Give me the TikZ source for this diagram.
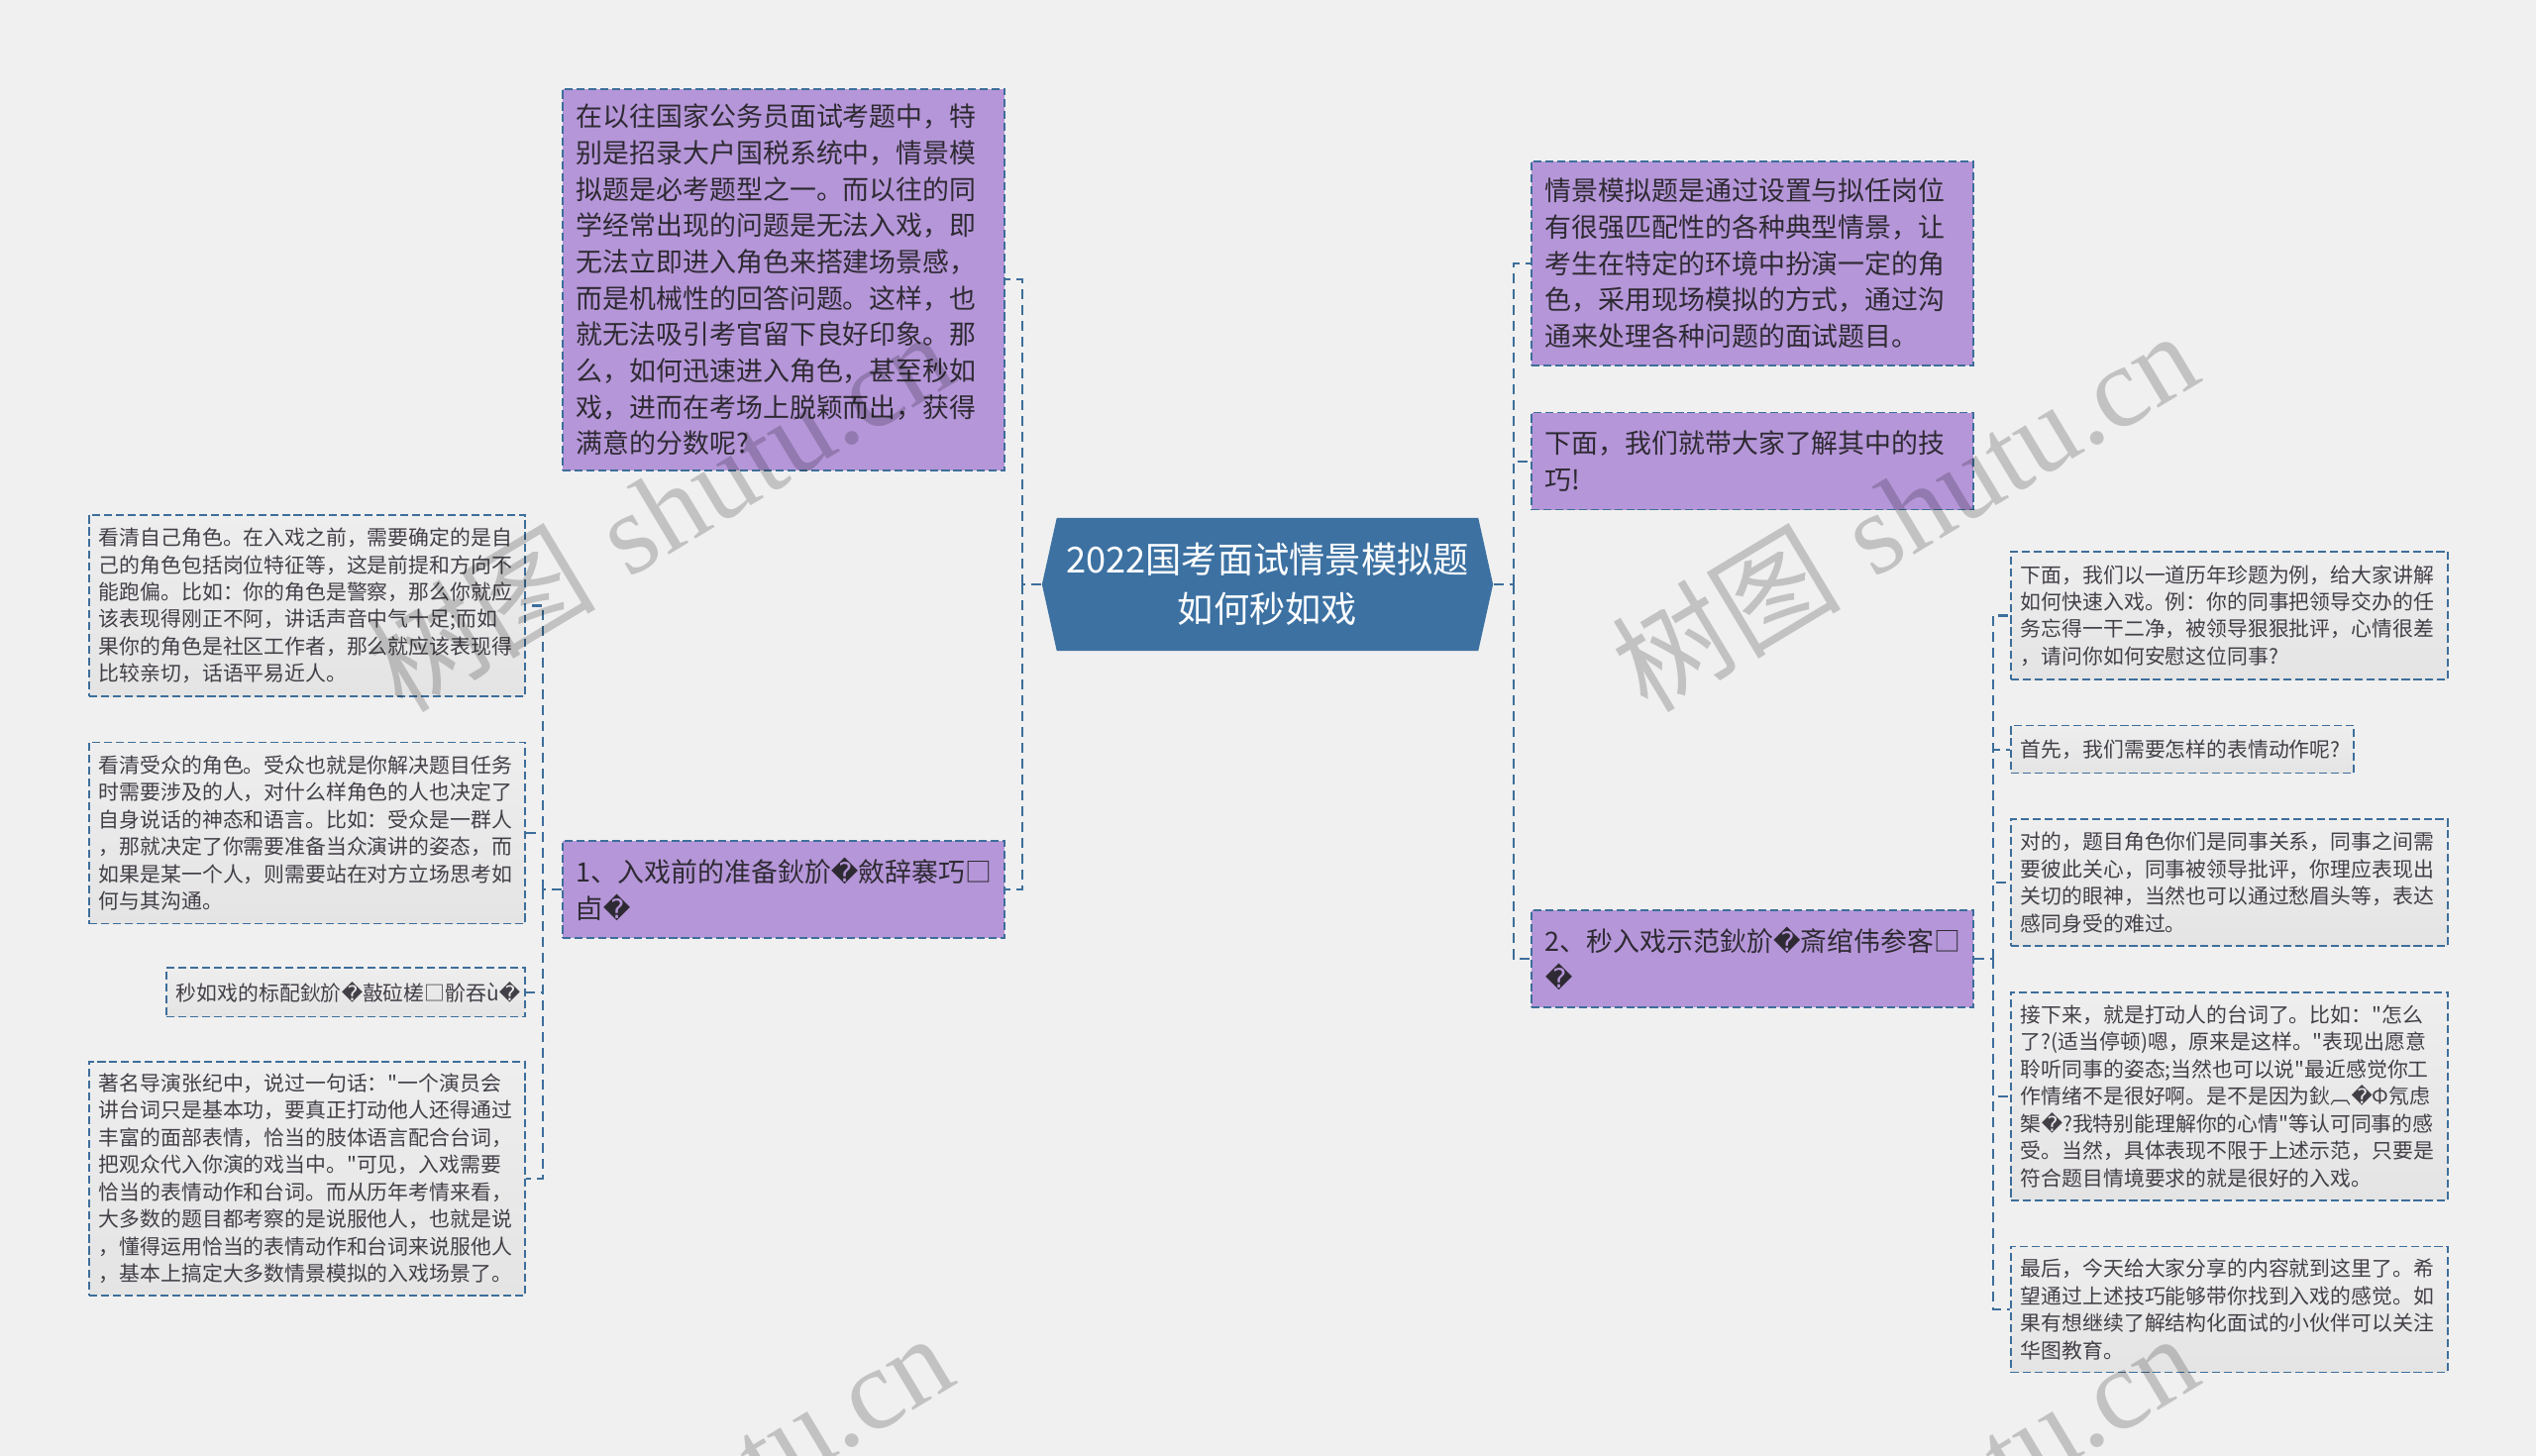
\documentclass[tikz,border=0pt]{standalone}
\usepackage{fontspec}
\setmainfont{Noto Sans CJK SC}[Ligatures=TeXOff]
\newfontfamily\dejavu{DejaVu Sans}
\newfontfamily\wmserif{Liberation Serif}
\usetikzlibrary{positioning,shapes.symbols}

\definecolor{bgcol}{HTML}{F0F0F0}
\definecolor{linecol}{HTML}{3D6E9B}
\definecolor{rootcol}{HTML}{3C71A2}
\definecolor{purpcol}{HTML}{B596D8}
\definecolor{leaftop}{HTML}{EEEEEE}
\definecolor{leafbot}{HTML}{E4E4E4}
\definecolor{txtcol}{HTML}{2E2A33}

\newcommand\badch{{\dejavu\symbol{"FFFD}}}

\tikzset{
  root/.style={signal, signal to=west and east, signal pointer angle=155,
    fill=rootcol, text=white, minimum width=4.55cm, minimum height=1.34cm,
    inner sep=0pt, align=center, font=\fontsize{10.3pt}{14.2pt}\selectfont},
  topic/.style={rectangle, fill=purpcol, draw=linecol, line width=0.43pt,
    dash pattern=on 2.3pt off 1.1pt, text=txtcol, align=left,
    inner xsep=0.14cm, inner ysep=0pt, text width=4.18cm,
    font=\fontsize{7.65pt}{10.43pt}\selectfont},
  leaf/.style={rectangle, top color=leaftop, bottom color=leafbot, draw=linecol,
    line width=0.43pt, dash pattern=on 2.3pt off 1.1pt, text=txtcol!90,
    align=left, inner xsep=0.1cm, inner ysep=0pt, text width=4.2cm,
    font=\fontsize{5.93pt}{7.8pt}\selectfont},
  link/.style={draw=linecol, line width=0.57pt, dash pattern=on 2.85pt off 1.7pt},
  wmark/.style={rotate=31, text=black, opacity=0.19,
    font=\fontsize{33pt}{33pt}\selectfont},
}

\begin{document}
\begin{tikzpicture}[x=0.01cm, y=-0.01cm]
  \useasboundingbox (0,0) rectangle (2560,1470);
  \fill[bgcol] (0,0) rectangle (2560,1470);

  \node[root] (c) at (1279.5,590) {2022国考面试情景模拟题\\如何秒如戏};

  \node[topic, minimum height=3.85cm] (l1) at (791,282.5)
    {在以往国家公务员面试考题中，特\\别是招录大户国税系统中，情景模\\拟题是必考题型之一。而以往的同\\学经常出现的问题是无法入戏，即\\无法立即进入角色来搭建场景感，\\而是机械性的回答问题。这样，也\\就无法吸引考官留下良好印象。那\\么，如何迅速进入角色，甚至秒如\\戏，进而在考场上脱颖而出，获得\\满意的分数呢?};
  \node[topic, minimum height=0.98cm] (l2) at (791,898)
    {1、入戏前的准备鈥斺\badch 斂辞褰巧□\\卣\badch};

  \node[topic, minimum height=2.06cm] (r1) at (1769,266)
    {情景模拟题是通过设置与拟任岗位\\有很强匹配性的各种典型情景，让\\考生在特定的环境中扮演一定的角\\色，采用现场模拟的方式，通过沟\\通来处理各种问题的面试题目。};
  \node[topic, minimum height=0.98cm, below=0.46cm of r1] (r2)
    {下面，我们就带大家了解其中的技\\巧!};
  \node[topic, minimum height=0.98cm] (r3) at (1769,968)
    {2、秒入戏示范鈥斺\badch 斎绾伟参客□\\\badch};

  \node[leaf, minimum height=1.83cm] (la1) at (310,611.5)
    {看清自己角色。在入戏之前，需要确定的是自\\己的角色包括岗位特征等，这是前提和方向不\\能跑偏。比如：你的角色是警察，那么你就应\\该表现得刚正不阿，讲话声音中气十足;而如\\果你的角色是社区工作者，那么就应该表现得\\比较亲切，话语平易近人。};
  \node[leaf, minimum height=1.83cm, below=0.45cm of la1] (la2)
    {看清受众的角色。受众也就是你解决题目任务\\时需要涉及的人，对什么样角色的人也决定了\\自身说话的神态和语言。比如：受众是一群人\\，那就决定了你需要准备当众演讲的姿态，而\\如果是某一个人，则需要站在对方立场思考如\\何与其沟通。};
  \node[leaf, minimum height=0.49cm, text width=3.42cm,
    below=0.43cm of la2.south east, anchor=north east] (la3)
    {秒如戏的标配鈥斺\badch 敼砬槎□骱吞ù\badch};
  \node[leaf, minimum height=2.36cm,
    below=0.44cm of la3.south east, anchor=north east] (la4)
    {著名导演张纪中，说过一句话："一个演员会\\讲台词只是基本功，要真正打动他人还得通过\\丰富的面部表情，恰当的肢体语言配合台词，\\把观众代入你演的戏当中。"可见，入戏需要\\恰当的表情动作和台词。而从历年考情来看，\\大多数的题目都考察的是说服他人，也就是说\\，懂得运用恰当的表情动作和台词来说服他人\\，基本上搞定大多数情景模拟的入戏场景了。};

  \node[leaf, minimum height=1.29cm, text width=4.21cm] (rb1) at (2250.5,621.5)
    {下面，我们以一道历年珍题为例，给大家讲解\\如何快速入戏。例：你的同事把领导交办的任\\务忘得一干二净，被领导狠狠批评，心情很差\\，请问你如何安慰这位同事?};
  \node[leaf, minimum height=0.48cm, text width=3.26cm,
    below=0.45cm of rb1.south west, anchor=north west] (rb2)
    {首先，我们需要怎样的表情动作呢?};
  \node[leaf, minimum height=1.28cm, text width=4.21cm,
    below=0.45cm of rb2.south west, anchor=north west] (rb3)
    {对的，题目角色你们是同事关系，同事之间需\\要彼此关心，同事被领导批评，你理应表现出\\关切的眼神，当然也可以通过愁眉头等，表达\\感同身受的难过。};
  \node[leaf, minimum height=2.1cm, text width=4.21cm, below=0.45cm of rb3] (rb4)
    {接下来，就是打动人的台词了。比如："怎么\\了?(适当停顿)嗯，原来是这样。"表现出愿意\\聆听同事的姿态;当然也可以说"最近感觉你工\\作情绪不是很好啊。是不是因为鈥︹\badch Φ氖虑\\榘\badch ?我特别能理解你的心情"等认可同事的感\\受。当然，具体表现不限于上述示范，只要是\\符合题目情境要求的就是很好的入戏。};
  \node[leaf, minimum height=1.27cm, text width=4.21cm, below=0.45cm of rb4] (rb5)
    {最后，今天给大家分享的内容就到这里了。希\\望通过上述技巧能够带你找到入戏的感觉。如\\果有想继续了解结构化面试的小伙伴可以关注\\华图教育。};

  \coordinate[left=0.19cm of c.west] (lh);
  \coordinate[right=0.2cm of c.east] (rh);
  \coordinate[left=0.19cm of l2.west] (lah);
  \coordinate[right=0.19cm of r3.east] (rbh);

  \draw[link] (c.west) -- (lh);
  \draw[link] (lh) |- (l1.east);
  \draw[link] (lh) |- (l2.east);
  \draw[link] (c.east) -- (rh);
  \foreach \n in {r1,r2,r3}
    \draw[link] (rh) |- (\n.west);
  \draw[link] (l2.west) -- (lah);
  \foreach \n in {la1,la2,la3,la4}
    \draw[link] (lah) |- (\n.east);
  \draw[link] (r3.east) -- (rbh);
  \foreach \n in {rb1,rb2,rb3,rb4,rb5}
    \draw[link] (rbh) |- (\n.west);

  \begin{scope}
    \clip (0,0) rectangle (2560,1470);
    \foreach \wx/\wy in {665/515, 1922/515, 665/1527, 1922/1527}
      \node[wmark] at (\wx,\wy) {树图\hspace{0.3em}{\wmserif shutu.cn}};
  \end{scope}
\end{tikzpicture}
\end{document}
